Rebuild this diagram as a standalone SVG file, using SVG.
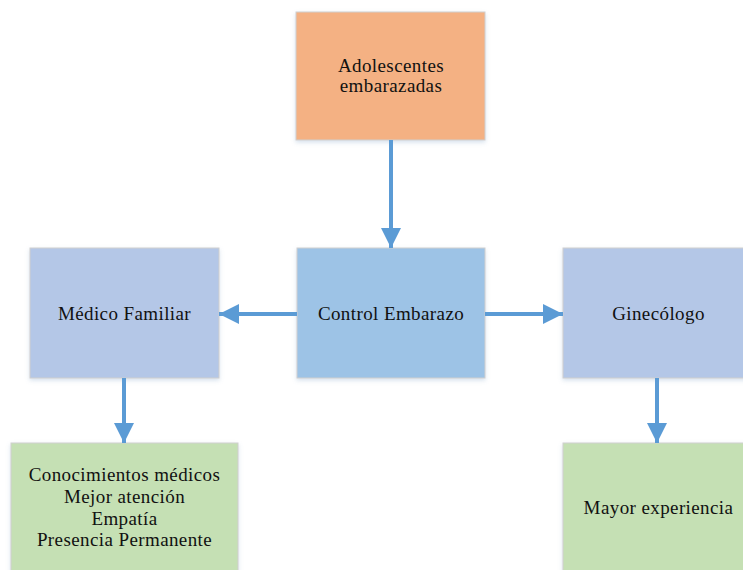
<svg xmlns="http://www.w3.org/2000/svg" width="743" height="570" viewBox="0 0 743 570">
<defs>
<style>
.box{stroke:#cfcfcf;stroke-width:1;filter:url(#sh)}
.t{font-family:"Liberation Serif","Times New Roman",serif;font-size:19px;letter-spacing:0.4px;fill:#111;text-anchor:middle}
.c{stroke:#5b9bd5;stroke-width:4;fill:none}
.o{fill:#f4b183}.b{fill:#9dc3e6}.p{fill:#b4c7e7}.g{fill:#c5e0b4}
</style>
<filter id="sh" x="-10%" y="-10%" width="120%" height="130%">
<feDropShadow dx="0" dy="2" stdDeviation="2" flood-color="#7a9cc6" flood-opacity="0.3"/>
</filter>
<marker id="ah" markerWidth="5" markerHeight="5" refX="4.5" refY="2.25" orient="auto" markerUnits="strokeWidth" viewBox="0 0 4.5 4.5">
<path d="M0,0 L4.5,2.25 L0,4.5 Z" fill="#5b9bd5"/>
</marker>
</defs>
<g id="adolescentes">
<rect class="box o" x="296" y="12" width="189" height="128"/>
<text class="t" x="391" y="72">Adolescentes</text>
<text class="t" x="391" y="92">embarazadas</text>
</g>
<g id="control">
<rect class="box b" x="297" y="248" width="188" height="130"/>
<text class="t" x="391" y="320">Control Embarazo</text>
</g>
<g id="medico">
<rect class="box p" x="30" y="248" width="189" height="130"/>
<text class="t" x="124.5" y="320">Médico Familiar</text>
</g>
<g id="ginecologo">
<rect class="box p" x="563" y="248" width="191" height="130"/>
<text class="t" x="658.5" y="320">Ginecólogo</text>
</g>
<g id="conocimientos">
<rect class="box g" x="11" y="443" width="227" height="140"/>
<text class="t" x="124.5" y="481">Conocimientos médicos</text>
<text class="t" x="124.5" y="503">Mejor atención</text>
<text class="t" x="124.5" y="525">Empatía</text>
<text class="t" x="124.5" y="546">Presencia Permanente</text>
</g>
<g id="experiencia">
<rect class="box g" x="563" y="443" width="191" height="140"/>
<text class="t" x="658.5" y="514">Mayor experiencia</text>
</g>
<g id="connectors">
<line class="c" x1="391" y1="140" x2="391" y2="248" marker-end="url(#ah)"/>
<line class="c" x1="297" y1="314" x2="219" y2="314" marker-end="url(#ah)"/>
<line class="c" x1="485" y1="314" x2="563" y2="314" marker-end="url(#ah)"/>
<line class="c" x1="124" y1="378" x2="124" y2="443" marker-end="url(#ah)"/>
<line class="c" x1="657" y1="378" x2="657" y2="443" marker-end="url(#ah)"/>
</g>
</svg>
